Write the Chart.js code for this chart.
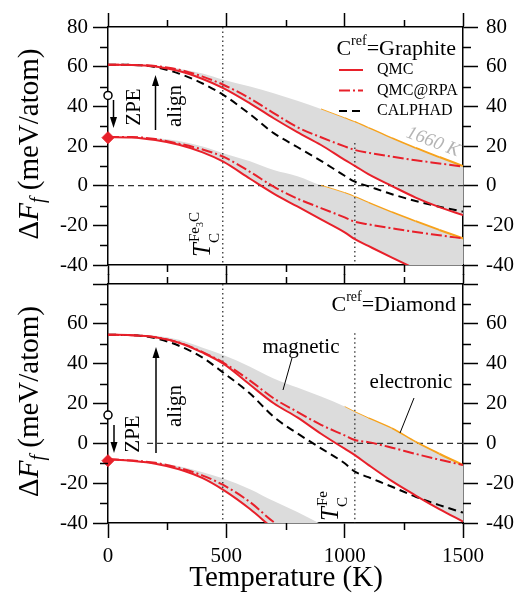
<!DOCTYPE html>
<html>
<head>
<meta charset="utf-8">
<script src="https://cdn.jsdelivr.net/npm/chart.js@4.4.1/dist/chart.umd.min.js"></script>
<style>
  body { margin: 0; background: #fff; }
  #box { position: relative; width: 519px; height: 593px; }
  #box canvas { position: absolute; left: 0; top: 0; }
</style>
</head>
<body>
<div id="box">
  <canvas id="graphite" width="519" height="593"></canvas>
  <canvas id="diamond" width="519" height="593"></canvas>
</div>
<script>
const temps = [0, 100, 200, 300, 400, 487, 600, 700, 800, 900, 1000, 1043, 1100, 1200, 1300, 1400, 1500];

// C ref = graphite (top panel), meV/atom
const grUpBand = [61.0, 61.0, 60.6, 59.0, 56.5, 53.4, 50.0, 46.6, 42.8, 38.7, 34.2, 32.3, 29.3, 24.0, 19.0, 14.4, 9.9];
const grUpQmc  = [61.0, 60.9, 60.1, 57.8, 53.8, 49.2, 41.5, 34.0, 27.0, 20.5, 13.0, 10.0, 5.8, -0.2, -6.0, -10.8, -14.8];
const grUpRpa  = [61.0, 60.9, 60.3, 58.5, 55.0, 50.9, 44.0, 36.6, 29.5, 24.4, 19.8, 18.0, 16.6, 14.6, 12.8, 11.2, 9.6];
const grUpCal  = [61.0, 60.9, 59.8, 56.5, 51.5, 45.8, 36.0, 26.5, 19.5, 12.5, 5.0, 2.0, -0.3, -4.3, -7.7, -10.6, -13.1];
const grLoBand = [24.5, 24.5, 24.0, 22.5, 19.8, 16.4, 12.3, 7.9, 4.8, 0.2, -3.5, -5.5, -8.4, -13.3, -17.9, -22.3, -26.6];
const grLoQmc  = [24.5, 24.3, 23.0, 20.6, 16.8, 12.1, 3.5, -4.0, -10.5, -17.0, -23.5, -27.0, -30.4, -36.3, -42.0, -47.5, -53.0];
const grLoRpa  = [24.5, 24.5, 23.5, 21.2, 18.2, 14.6, 7.0, -0.5, -6.5, -11.3, -16.0, -18.2, -19.5, -21.5, -23.4, -25.0, -26.6];

// C ref = diamond (bottom panel)
const dmUpBand = [54.5, 54.5, 54.0, 52.0, 48.0, 44.3, 38.5, 32.6, 28.0, 23.5, 18.5, 15.9, 12.8, 7.6, 0.8, -5.2, -10.9];
const dmUpQmc  = [54.5, 54.3, 53.3, 50.5, 45.5, 40.0, 29.4, 20.1, 13.0, 4.8, -2.7, -5.9, -10.8, -19.0, -26.2, -33.0, -39.3];
const dmUpRpa  = [54.5, 54.3, 53.3, 50.6, 45.8, 40.5, 31.5, 22.6, 15.8, 9.3, 4.0, 1.7, 0.6, -2.2, -5.3, -8.2, -10.9];
const dmUpCal  = [54.5, 54.3, 52.8, 49.0, 43.0, 35.5, 25.0, 13.3, 5.0, -2.5, -10.0, -14.2, -17.0, -21.8, -26.8, -31.0, -34.8];
const dmLoBand = [-8.0, -8.5, -9.5, -11.5, -14.5, -17.6, -23.0, -29.0, -34.5, -40.5, -45.5, -47.0, -50.0, -55.0, -62.0, -68.0, -73.5];
const dmLoQmc  = [-8.0, -8.8, -10.2, -13.0, -17.5, -23.4, -33.0, -43.0, -52.0, -60.0, -68.0, -71.0, -75.0, -82.0, -89.0, -95.0, -101.0];
const dmLoRpa  = [-8.0, -8.6, -9.8, -12.3, -16.2, -20.9, -29.5, -39.5, -47.0, -53.0, -58.0, -60.5, -62.0, -64.5, -68.0, -71.0, -73.5];

// T=0 markers: static value (circle) and with zero point energy (diamond)
const grStatic = 45.5, grZpe = 24.2;
const dmStatic = 14.2, dmZpe = -8.7;

// Curie temperatures
const tcFe3C = 485, tcFe = 1043;

const seriesNames = ['QMC', 'QMC@RPA', 'CALPHAD'];
const xTicks = [0, 500, 1000, 1500];
const yTicks = [-40, -20, 0, 20, 40, 60, 80];
const xMinor = [250, 750, 1250];
const yMinor = [-30, -10, 10, 30, 50, 70];

const serif = '"Liberation Serif", "Times New Roman", serif';
const RED = '#e8202a', GREY = '#dcdcdc', ORANGE = '#f7a21b';
const DASHDOT = [11, 3, 2, 3], DASHED = [8, 5];
const fnt = (size, style) => (style ? style + ' ' : '') + size + 'px ' + serif;

Chart.defaults.font.family = serif;

const pts = arr => temps.map((t, i) => ({x: t, y: arr[i]}));
const ptsFrom = (arr, t0) => pts(arr).filter(p => p.x >= t0);

function lineSet(data, color, dash, order) {
  return {data, borderColor: color, borderWidth: 2, borderDash: dash, pointRadius: 0,
          cubicInterpolationMode: 'monotone', fill: false, order};
}

function orangeSet(arr, from) {
  const s = lineSet(ptsFrom(arr, from), ORANGE, [], 3);
  s.borderWidth = 1.5;
  s.segment = {borderWidth: c => 0.7 + 1.4 * (c.p1.parsed.x - from) / (1500 - from)};
  return s;
}

function buildSets(d) {
  return [
    {data: pts(d.upBand), borderWidth: 0, pointRadius: 0, backgroundColor: GREY, fill: 1, cubicInterpolationMode: 'monotone', order: 9},
    lineSet(pts(d.upQmc), RED, [], 1),
    {data: pts(d.loBand), borderWidth: 0, pointRadius: 0, backgroundColor: GREY, fill: 3, cubicInterpolationMode: 'monotone', order: 9},
    lineSet(pts(d.loQmc), RED, [], 1),
    lineSet(pts(d.upRpa), RED, DASHDOT, 2),
    lineSet(pts(d.loRpa), RED, DASHDOT, 2),
    lineSet(pts(d.upCal), '#000', DASHED, 2),
    orangeSet(d.upBand, d.orangeFrom),
    orangeSet(d.loBand, d.orangeFrom),
    {data: [{x: d.zeroFrom, y: 0}, {x: 1500, y: 0}], borderColor: '#333', borderWidth: 1.2, borderDash: [6, 4], pointRadius: 0, order: 4},
    {data: [{x: tcFe3C, y: 80}, {x: tcFe3C, y: -40}], borderColor: '#222', borderWidth: 1.2, borderDash: [1.5, 3], pointRadius: 0, order: 4},
    {data: [{x: tcFe, y: d.feTop}, {x: tcFe, y: -40}], borderColor: '#222', borderWidth: 1.2, borderDash: [1.5, 3], pointRadius: 0, order: 4},
    {data: [{x: 0, y: d.stat}], showLine: false, pointStyle: 'circle', pointRadius: 4, pointBorderWidth: 1.5,
     pointBackgroundColor: '#fff', pointBorderColor: '#000', clip: false, order: 0},
    {data: [{x: 0, y: d.zpe}], showLine: false, pointStyle: 'rectRot', pointRadius: 6, pointBorderWidth: 1,
     pointBackgroundColor: RED, pointBorderColor: RED, clip: false, order: 0}
  ];
}

const axisLine = {display: true, color: '#000', width: 1.5};
const noPad = s => { s.paddingLeft = s.paddingRight = s.paddingTop = s.paddingBottom = 0; };

function xScale(pos, tickLen, boxH, labels) {
  return {
    type: 'linear', position: pos, min: 0, max: 1500,
    border: axisLine,
    grid: {display: true, drawOnChartArea: false, drawTicks: true, tickLength: tickLen, tickColor: '#000', tickWidth: 1.5},
    ticks: {display: labels, color: '#000', font: {family: serif, size: 21}, padding: 6, maxRotation: 0, autoSkip: false,
            callback: v => String(v)},
    afterBuildTicks: s => { s.ticks = xTicks.map(v => ({value: v})); },
    afterFit: s => { s.height = boxH; noPad(s); }
  };
}

function yScale(pos, boxW, hideTop) {
  return {
    type: 'linear', position: pos, min: -40, max: 80,
    border: axisLine,
    grid: {display: true, drawOnChartArea: false, drawTicks: true, tickLength: 15, tickColor: '#000', tickWidth: 1.5},
    ticks: {color: '#000', font: {family: serif, size: 21}, padding: pos === 'left' ? 5 : 8,
            callback: v => (hideTop && v === 80) ? '' : String(v)},
    afterBuildTicks: s => { s.ticks = yTicks.map(v => ({value: v})); },
    afterFit: s => { s.width = boxW; noPad(s); }
  };
}

function richText(ctx, x, y, rot, runs, align) {
  ctx.save();
  ctx.translate(x, y);
  ctx.rotate(rot);
  ctx.textAlign = 'left';
  ctx.textBaseline = 'alphabetic';
  let w = 0;
  runs.forEach(r => { ctx.font = r.font; w += ctx.measureText(r.t).width; });
  let cx = align === 'center' ? -w / 2 : align === 'right' ? -w : 0;
  runs.forEach(r => {
    ctx.font = r.font;
    ctx.fillStyle = r.color || '#000';
    ctx.fillText(r.t, cx, r.dy || 0);
    cx += ctx.measureText(r.t).width;
  });
  ctx.restore();
}

function vArrow(ctx, x, y1, y2) {
  const dir = y2 > y1 ? 1 : -1;
  ctx.beginPath(); ctx.moveTo(x, y1); ctx.lineTo(x, y2 - dir * 6); ctx.stroke();
  ctx.beginPath(); ctx.moveTo(x, y2); ctx.lineTo(x - 3.5, y2 - dir * 11); ctx.lineTo(x + 3.5, y2 - dir * 11);
  ctx.closePath(); ctx.fill();
}

function tcLabel(ctx, x, y, sup) {
  ctx.save();
  ctx.translate(x, y);
  ctx.rotate(-Math.PI / 2);
  ctx.fillStyle = '#000';
  ctx.textBaseline = 'alphabetic';
  ctx.font = fnt(25, 'italic');
  ctx.fillText('T', 0, 0);
  const w = ctx.measureText('T').width;
  ctx.font = fnt(15);
  ctx.fillText('C', w, 9);
  let cx = w + 1;
  sup.forEach(r => { ctx.font = r.font; ctx.fillText(r.t, cx, r.dy); cx += ctx.measureText(r.t).width; });
  ctx.restore();
}

function minorTicks(chart, topLen, botLen) {
  const {ctx, chartArea: a, scales} = chart;
  ctx.save();
  ctx.strokeStyle = '#000';
  ctx.lineWidth = 1.5;
  ctx.beginPath();
  yMinor.forEach(v => {
    const yy = Math.round(scales.y.getPixelForValue(v)) + 0.5;
    ctx.moveTo(a.left - 8, yy); ctx.lineTo(a.left, yy);
    ctx.moveTo(a.right, yy); ctx.lineTo(a.right + 8, yy);
  });
  xMinor.forEach(v => {
    const xx = Math.round(scales.x.getPixelForValue(v)) + 0.5;
    ctx.moveTo(xx, a.top - topLen); ctx.lineTo(xx, a.top);
    ctx.moveTo(xx, a.bottom); ctx.lineTo(xx, a.bottom + botLen);
  });
  ctx.stroke();
  ctx.restore();
}

function legendHead(ctx, name, baseY) {
  richText(ctx, 456, baseY, 0, [
    {t: 'C', font: fnt(22)}, {t: 'ref', font: fnt(14), dy: -10}, {t: '=' + name, font: fnt(22)}
  ], 'right');
}

const deco = {
  id: 'deco',
  afterDraw(chart) {
    const ctx = chart.ctx, a = chart.chartArea;
    const top = chart.canvas.id === 'graphite';
    minorTicks(chart, 7, 7);
    ctx.save();
    ctx.fillStyle = '#000';
    ctx.strokeStyle = '#000';
    ctx.lineWidth = 1.5;

    richText(ctx, 38, (a.top + a.bottom) / 2 - 2, -Math.PI / 2, [
      {t: '\u0394', font: fnt(29)}, {t: 'F', font: fnt(29, 'italic')},
      {t: 'f', font: fnt(20, 'italic'), dy: 6}, {t: ' (meV/atom)', font: fnt(29)}
    ], 'center');

    if (top) {
      legendHead(ctx, 'Graphite', 55);
      const styles = [[RED, []], [RED, DASHDOT], ['#000', DASHED]];
      seriesNames.forEach((name, i) => {
        const yy = 70 + 20.5 * i;
        ctx.save();
        ctx.strokeStyle = styles[i][0];
        ctx.lineWidth = 2;
        ctx.setLineDash(styles[i][1]);
        ctx.beginPath(); ctx.moveTo(339, yy); ctx.lineTo(363, yy); ctx.stroke();
        ctx.restore();
        ctx.font = fnt(16);
        ctx.textBaseline = 'middle';
        ctx.fillText(name, 377, yy);
      });
      richText(ctx, 140, 107, -Math.PI / 2, [{t: 'ZPE', font: fnt(21)}], 'center');
      richText(ctx, 181, 106, -Math.PI / 2, [{t: 'align', font: fnt(21)}], 'center');
      vArrow(ctx, 113.5, 100, 128);
      vArrow(ctx, 155.5, 130, 75);
      tcLabel(ctx, 210, 257, [{t: 'Fe', font: fnt(15), dy: -11}, {t: '3', font: fnt(10), dy: -7}, {t: 'C', font: fnt(15), dy: -11}]);
      ctx.save();
      ctx.translate(433, 142);
      ctx.rotate(0.37);
      ctx.font = fnt(19, 'italic');
      ctx.fillStyle = '#b4b4b4';
      ctx.textAlign = 'center';
      ctx.textBaseline = 'middle';
      ctx.fillText('1660 K', 0, 0);
      ctx.restore();
    } else {
      legendHead(ctx, 'Diamond', 311);
      richText(ctx, 139, 434, -Math.PI / 2, [{t: 'ZPE', font: fnt(21)}], 'center');
      richText(ctx, 181, 406, -Math.PI / 2, [{t: 'align', font: fnt(21)}], 'center');
      vArrow(ctx, 114, 425, 453);
      vArrow(ctx, 156, 453, 347);
      richText(ctx, 301, 353, 0, [{t: 'magnetic', font: fnt(21)}], 'center');
      richText(ctx, 411, 388, 0, [{t: 'electronic', font: fnt(21)}], 'center');
      ctx.lineWidth = 1;
      ctx.beginPath();
      ctx.moveTo(292, 358); ctx.lineTo(283, 390);
      ctx.moveTo(414, 398); ctx.lineTo(400, 433);
      ctx.stroke();
      tcLabel(ctx, 338, 521, [{t: 'Fe', font: fnt(15), dy: -11}]);
      richText(ctx, 286, 586, 0, [{t: 'Temperature (K)', font: fnt(29)}], 'center');
    }
    ctx.restore();
  }
};

function makeChart(id, sets, scales, padding) {
  return new Chart(document.getElementById(id), {
    type: 'line',
    data: {datasets: sets},
    options: {
      responsive: false,
      maintainAspectRatio: false,
      animation: false,
      events: [],
      layout: {autoPadding: false, padding},
      plugins: {legend: {display: false}, tooltip: {enabled: false}, filler: {drawTime: 'beforeDatasetsDraw'}},
      scales
    },
    plugins: [deco]
  });
}

makeChart('graphite',
  buildSets({upBand: grUpBand, upQmc: grUpQmc, loBand: grLoBand, loQmc: grLoQmc, upRpa: grUpRpa, loRpa: grLoRpa,
             upCal: grUpCal, orangeFrom: 900, zeroFrom: 0, feTop: 21.5, stat: grStatic, zpe: grZpe}),
  {x: xScale('bottom', 10, 14, false), xT: xScale('top', 14, 14, false),
   y: yScale('left', 60, false), yR: yScale('right', 56, false)},
  {left: 48, right: 0, top: 13, bottom: 593 - 265 - 14});

makeChart('diamond',
  buildSets({upBand: dmUpBand, upQmc: dmUpQmc, loBand: dmLoBand, loQmc: dmLoQmc, upRpa: dmUpRpa, loRpa: dmLoRpa,
             upCal: dmUpCal, orangeFrom: 1000, zeroFrom: 165, feTop: 55.3, stat: dmStatic, zpe: dmZpe}),
  {x: xScale('bottom', 15, 70, true), xT: xScale('top', 10, 14, false),
   y: yScale('left', 60, true), yR: yScale('right', 56, true)},
  {left: 48, right: 0, top: 284 - 14, bottom: 0});
</script>
</body>
</html>
